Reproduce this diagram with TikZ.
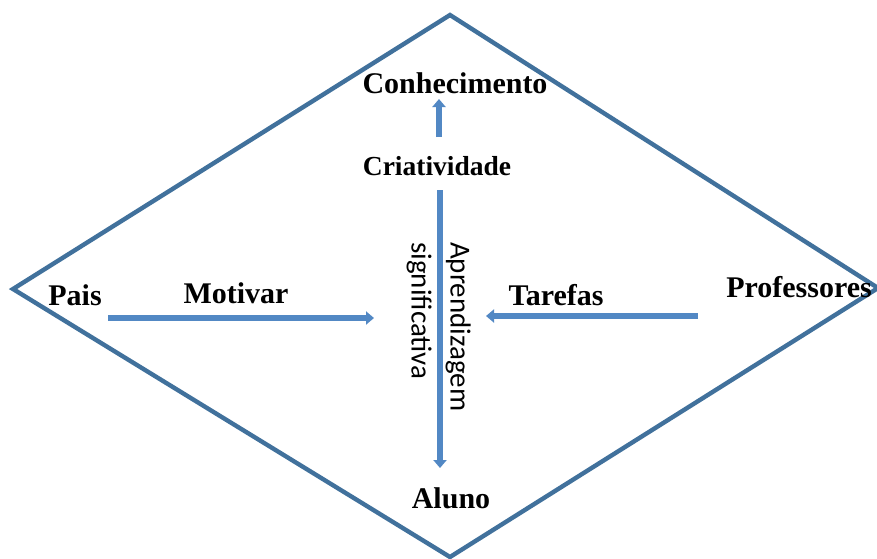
\documentclass[tikz,border=0pt]{standalone}
\usepackage{fontspec}
\setmainfont{Liberation Serif}
\newfontfamily\calib{Carlito}
\usetikzlibrary{arrows.meta}
\definecolor{diamc}{HTML}{41719C}
\definecolor{arrc}{HTML}{5288C4}
\begin{document}
\begin{tikzpicture}[x=1pt,y=-1pt,
  lbl/.style={font=\fontsize{30}{34}\selectfont\bfseries, anchor=base, inner sep=0pt},
  arr/.style={draw=arrc, line width=5.5pt, -{Triangle[length=8pt,width=13pt]}},
  diam/.style={draw=diamc, line width=4.4pt, line join=miter}]
\useasboundingbox (0,0) rectangle (877,558);
% diamond
\coordinate (T) at (450,15);
\coordinate (R) at (878,288);
\coordinate (B) at (450,557);
\coordinate (L) at (13,289);
\draw[diam] (T) -- (R) -- (B) -- (L) -- cycle;
% labels
\node[lbl] (con) at (455,93) {Conhecimento};
\node[lbl, font=\fontsize{27.5}{32}\selectfont\bfseries] (cri) at (437,175) {Criatividade};
\node[lbl] (pais) at (75,305) {Pais};
\node[lbl] (mot) at (236,303) {Motivar};
\node[lbl] (tar) at (556,305) {Tarefas};
\node[lbl] (prof) at (799,297) {Professores};
\node[lbl] (alu) at (451,508) {Aluno};
\node[font=\calib\fontsize{29}{39}\selectfont, rotate=-90, align=left, anchor=north west, inner sep=0pt] (apr) at (471,242) {Aprendizagem\\significativa};
% arrow ends
\coordinate (a1s) at (439,137);
\coordinate (a1e) at (439,99);
\coordinate (a2s) at (440,190);
\coordinate (a2e) at (440,468);
\coordinate (a3s) at (108,318);
\coordinate (a3e) at (374,318);
\coordinate (a4s) at (698,316);
\coordinate (a4e) at (486,316);
\draw[arr] (a1s) -- (a1e);
\draw[arr] (a2s) -- (a2e);
\draw[arr] (a3s) -- (a3e);
\draw[arr] (a4s) -- (a4e);
\end{tikzpicture}
\end{document}
